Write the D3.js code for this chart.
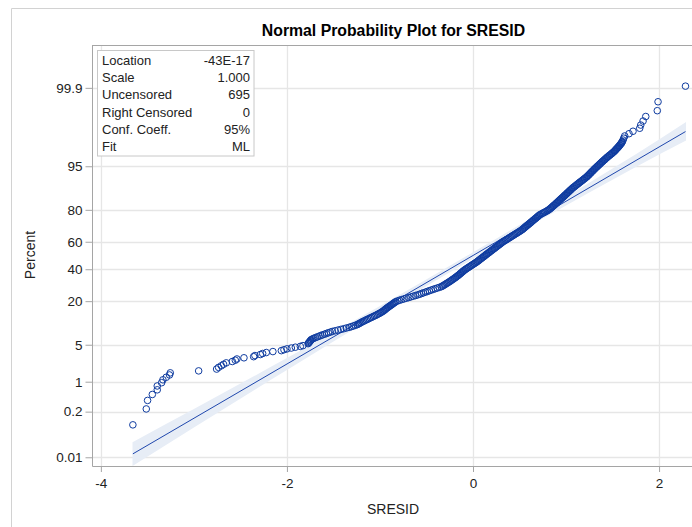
<!DOCTYPE html>
<html><head><meta charset="utf-8">
<script src="https://cdn.jsdelivr.net/npm/d3@7"></script>
<style>
body{margin:0;background:#fff;}
svg{display:block;font-family:"Liberation Sans",Arial,sans-serif;}
</style>
</head><body>
<svg id="chart" width="692" height="527"></svg>
<script>
// ---------------- data ----------------
// lowest observations (ranks 1..34)
const tailLowX = [-3.656,-3.512,-3.498,-3.447,-3.394,-3.394,-3.347,-3.333,-3.297,-3.262,-3.254,-2.949,
  -2.756,-2.735,-2.705,-2.681,-2.652,-2.587,-2.555,-2.538,-2.462,-2.358,-2.344,-2.286,-2.261,-2.222,-2.151,
  -2.060,-2.032,-2.000,-1.953,-1.910,-1.856,-1.828];
const tailLowPct = [0.090,0.234,0.378,0.521,0.665,0.809,0.953,1.097,1.241,1.384,1.528,1.672,
  1.816,1.960,2.104,2.247,2.391,2.535,2.679,2.823,2.967,3.110,3.254,3.398,3.542,3.686,3.830,
  3.973,4.117,4.261,4.405,4.549,4.693,4.836];
// dense body of the sample
const bodyX = [-1.773,-1.761,-1.749,-1.738,-1.709,-1.672,-1.635,-1.596,-1.555,-1.512,-1.451,-1.391,-1.332,
  -1.286,-1.245,-1.219,-1.192,-1.163,-1.133,-1.103,-1.072,-1.042,-1.014,-0.988,-0.965,-0.947,-0.930,
  -0.910,-0.889,-0.869,-0.849,-0.829,-0.790,-0.741,-0.691,-0.642,-0.592,-0.552,-0.511,-0.470,
  -0.428,-0.384,-0.340,-0.315,-0.292,-0.269,-0.246,-0.226,-0.204,-0.184,-0.165,-0.147,-0.130,-0.113,-0.096,
  -0.076,-0.054,-0.031,-0.010,0.013,0.035,0.055,0.073,0.092,0.111,0.130,0.148,0.168,
  0.186,0.205,0.225,0.243,0.262,0.282,0.300,0.319,0.343,0.366,0.389,0.412,0.435,0.459,0.482,0.505,
  0.527,0.544,0.561,0.578,0.597,0.614,0.631,0.648,0.666,0.683,0.700,0.717,0.744,0.771,0.798,
  0.820,0.838,0.854,0.870,0.887,0.903,0.918,0.934,0.949,0.966,0.981,0.997,1.012,1.028,1.043,1.059,
  1.075,1.094,1.112,1.130,1.148,1.168,1.186,1.204,1.223,1.237,1.252,1.266,1.280,1.295,1.309,
  1.325,1.340,1.356,1.371,1.387,1.403,1.419,1.435,1.452,1.470,1.488,1.505,1.522,1.534,1.548,1.561,
  1.573,1.585,1.597,1.604];
const bodyPct = [5.21,5.48,5.77,6.06,6.37,6.68,7.02,7.35,7.71,8.08,8.46,8.85,9.27,9.68,10.12,10.56,11.04,11.51,
  12.01,12.51,13.04,13.57,14.13,14.69,15.28,15.87,16.49,17.11,17.76,18.41,19.09,19.77,20.48,21.19,21.92,22.66,
  23.43,24.20,24.99,25.78,26.61,27.43,28.27,29.12,29.99,30.85,31.75,32.64,33.55,34.46,35.39,36.32,37.26,38.21,
  39.17,40.13,41.10,42.07,43.06,44.04,45.03,46.02,47.01,48.01,49.00,50.00,51.00,51.99,52.99,53.98,54.97,55.96,
  56.94,57.93,58.90,59.87,60.83,61.79,62.74,63.68,64.61,65.54,66.45,67.36,68.25,69.15,70.01,70.88,71.73,72.57,
  73.39,74.22,75.01,75.80,76.57,77.34,78.08,78.81,79.52,80.23,80.91,81.59,82.24,82.89,83.51,84.13,84.72,85.31,
  85.87,86.43,86.96,87.49,87.99,88.49,88.96,89.44,89.88,90.32,90.73,91.15,91.54,91.92,92.29,92.65,92.98,93.32,
  93.63,93.94,94.23,94.52,94.79,95.05,95.30,95.54,95.78,95.99,96.20,96.41,96.60,96.78,96.96,97.13,97.29,97.44,
  97.59,97.72,97.85,97.98,98.10,98.21];
// further observations in the dense body (between the ones above)
const bodyMidX = [-1.767,-1.755,-1.744,-1.724,-1.691,-1.654,-1.616,-1.576,-1.534,-1.482,
  -1.421,-1.362,-1.309,-1.266,-1.232,-1.206,-1.178,-1.148,-1.118,-1.088,
  -1.057,-1.028,-1.001,-0.977,-0.956,-0.939,-0.920,-0.900,-0.879,-0.859,
  -0.839,-0.810,-0.766,-0.716,-0.667,-0.617,-0.572,-0.532,-0.491,-0.449,
  -0.406,-0.362,-0.328,-0.304,-0.281,-0.258,-0.236,-0.215,-0.194,-0.175,
  -0.156,-0.139,-0.122,-0.105,-0.086,-0.065,-0.043,-0.021,0.002,0.024,
  0.045,0.064,0.083,0.102,0.121,0.139,0.158,0.177,0.196,0.215,
  0.234,0.253,0.272,0.291,0.310,0.331,0.355,0.378,0.401,0.424,
  0.447,0.471,0.494,0.516,0.536,0.553,0.570,0.588,0.606,0.623,
  0.640,0.657,0.675,0.692,0.709,0.731,0.758,0.785,0.809,0.829,
  0.846,0.862,0.879,0.895,0.911,0.926,0.942,0.958,0.974,0.989,
  1.005,1.020,1.036,1.051,1.067,1.085,1.103,1.121,1.139,1.158,
  1.177,1.195,1.214,1.230,1.245,1.259,1.273,1.288,1.302,1.317,
  1.333,1.348,1.364,1.379,1.395,1.411,1.427,1.444,1.461,1.479,
  1.497,1.514,1.528,1.541,1.555,1.567,1.579,1.591,1.601];
const bodyMidPct = [5.34,5.62,5.91,6.21,6.52,6.85,7.18,7.53,7.89,8.27,
  8.65,9.06,9.47,9.90,10.34,10.80,11.27,11.76,12.26,12.77,
  13.30,13.85,14.41,14.98,15.57,16.18,16.80,17.43,18.08,18.75,
  19.43,20.12,20.83,21.55,22.29,23.04,23.81,24.59,25.38,26.19,
  27.02,27.85,28.69,29.55,30.42,31.30,32.19,33.09,34.00,34.92,
  35.85,36.79,37.73,38.69,39.65,40.61,41.58,42.56,43.55,44.53,
  45.52,46.51,47.51,48.50,49.50,50.50,51.49,52.49,53.48,54.47,
  55.46,56.45,57.43,58.42,59.38,60.35,61.31,62.26,63.21,64.14,
  65.07,65.99,66.90,67.80,68.70,69.58,70.44,71.30,72.15,72.98,
  73.80,74.61,75.40,76.18,76.95,77.71,78.44,79.16,79.87,80.57,
  81.25,81.91,82.56,83.20,83.82,84.42,85.01,85.59,86.15,86.69,
  87.22,87.74,88.24,88.72,89.20,89.66,90.10,90.52,90.94,91.34,
  91.73,92.10,92.47,92.81,93.15,93.47,93.78,94.08,94.37,94.65,
  94.92,95.17,95.42,95.66,95.88,96.09,96.30,96.50,96.69,96.87,
  97.04,97.21,97.36,97.51,97.65,97.78,97.91,98.04,98.15];
// highest observations (ranks 684..695)
const tailHighX = [1.613,1.620,1.631,1.677,1.720,1.792,1.803,1.828,1.857,1.981,1.989,2.284];
const tailHighPct = [98.33,98.47,98.62,98.76,98.90,99.05,99.19,99.34,99.48,99.62,99.77,99.91];

// fitted normal and its confidence band (half width in normal-quantile units)
const fitLocation = -43e-17;
const fitScale = 1.000;
const bandX = [-3.66,-3.0,-2.0,-1.0,0.0,1.0,2.0,2.29];
const bandHalf = [0.22,0.17,0.11,0.07,0.06,0.08,0.14,0.17];

// axes
const yTickPct = [0.01,0.2,1,5,20,40,60,80,95,99.9];
const yTickLabels = ["0.01","0.2","1","5","20","40","60","80","95","99.9"];
const xTicks = [-4,-2,0,2];

// inset table
const statLabels = ["Location","Scale","Uncensored","Right Censored","Conf. Coeff.","Fit"];
const statValues = ["-43E-17","1.000","695","0","95%","ML"];

// ---------------- helpers ----------------
function probit(p){
  const a=[-3.969683028665376e+01,2.209460984245205e+02,-2.759285104469687e+02,1.383577518672690e+02,-3.066479806614716e+01,2.506628277459239e+00];
  const b=[-5.447609879822406e+01,1.615858368580409e+02,-1.556989798598866e+02,6.680131188771972e+01,-1.328068155288572e+01];
  const c=[-7.784894002430293e-03,-3.223964580411365e-01,-2.400758277161838e+00,-2.549732539343734e+00,4.374664141464968e+00,2.938163982698783e+00];
  const d=[7.784695709041462e-03,3.224671290700398e-01,2.445134137142996e+00,3.754408661907416e+00];
  const plow=0.02425, phigh=1-plow;
  let q,r;
  if(p<plow){ q=Math.sqrt(-2*Math.log(p));
    return (((((c[0]*q+c[1])*q+c[2])*q+c[3])*q+c[4])*q+c[5])/((((d[0]*q+d[1])*q+d[2])*q+d[3])*q+1);}
  if(p<=phigh){ q=p-0.5; r=q*q;
    return (((((a[0]*r+a[1])*r+a[2])*r+a[3])*r+a[4])*r+a[5])*q/(((((b[0]*r+b[1])*r+b[2])*r+b[3])*r+b[4])*r+1);}
  q=Math.sqrt(-2*Math.log(1-p));
  return -(((((c[0]*q+c[1])*q+c[2])*q+c[3])*q+c[4])*q+c[5])/((((d[0]*q+d[1])*q+d[2])*q+d[3])*q+1);
}

// ---------------- layout ----------------
const svg = d3.select("#chart");
const L=92.5, R=700, T=45, B=466;
const x = d3.scaleLinear().domain([-4.09, 2.44]).range([L, R]);
const y = d3.scaleLinear().domain([-3.88, 3.88]).range([B, T]);   // normal quantile scale
const yP = p => y(probit(p/100));

const points = [];
function addSeries(xs, ps){ const n=Math.min(xs.length, ps.length); for(let i=0;i<n;i++) points.push({x:xs[i],p:ps[i]}); }
addSeries(tailLowX, tailLowPct);
addSeries(bodyX, bodyPct);
addSeries(bodyMidX, bodyMidPct);
addSeries(tailHighX, tailHighPct);

// outer frame
svg.append("line").attr("x1",11.5).attr("y1",8.5).attr("x2",692).attr("y2",8.5).attr("stroke","#d2d2d2");
svg.append("line").attr("x1",11.5).attr("y1",8.5).attr("x2",11.5).attr("y2",527).attr("stroke","#d2d2d2");

// title
svg.append("text").attr("x",393.5).attr("y",36).attr("text-anchor","middle")
  .attr("font-size",15.8).attr("font-weight","bold").attr("fill","#000")
  .text("Normal Probability Plot for SRESID");

const defs = svg.append("defs");
defs.append("clipPath").attr("id","plotclip").append("rect")
  .attr("x",L).attr("y",T).attr("width",R-L).attr("height",B-T);

const plot = svg.append("g").attr("clip-path","url(#plotclip)");

// gridlines
const yTickZ = yTickPct.map(p=>probit(p/100));
plot.selectAll("line.gy").data(yTickZ).enter().append("line")
  .attr("x1",L).attr("x2",R).attr("y1",d=>Math.round(y(d))+0.5).attr("y2",d=>Math.round(y(d))+0.5)
  .attr("stroke","#e6e6e6").attr("stroke-width",1.3);
plot.selectAll("line.gx").data(xTicks).enter().append("line")
  .attr("y1",T).attr("y2",B).attr("x1",d=>Math.round(x(d))+0.5).attr("x2",d=>Math.round(x(d))+0.5)
  .attr("stroke","#e6e6e6").attr("stroke-width",1.3);

// confidence band
const bandData = bandX.map((v,i)=>({x:v,z:(v-fitLocation)/fitScale,h:bandHalf[i]}));
plot.append("path").datum(bandData)
  .attr("d", d3.area().curve(d3.curveMonotoneX)
     .x(d=>x(d.x)).y0(d=>y(d.z-d.h)).y1(d=>y(d.z+d.h)))
  .attr("fill","#e7edf6");

// fit line
const xMin = d3.min(points,d=>d.x), xMax = d3.max(points,d=>d.x);
plot.append("line")
  .attr("x1",x(xMin)).attr("y1",y((xMin-fitLocation)/fitScale))
  .attr("x2",x(xMax)).attr("y2",y((xMax-fitLocation)/fitScale))
  .attr("stroke","#1f47ad").attr("stroke-width",1);

// points
plot.selectAll("circle").data(points).enter().append("circle")
  .attr("cx",d=>x(d.x)).attr("cy",d=>yP(d.p)).attr("r",3.3)
  .attr("fill","none").attr("stroke","#0f3ca0").attr("stroke-width",1);

// axes
const axisColor = "#a5a5a5";
const yAxis = d3.axisLeft(y).tickValues(yTickZ).tickFormat((d,i)=>yTickLabels[i]).tickSize(7).tickPadding(3);
const gy = svg.append("g").attr("transform",`translate(${L},0)`).call(yAxis);
const xAxis = d3.axisBottom(x).tickValues(xTicks).tickFormat(d3.format("d")).tickSize(6).tickPadding(6);
const gx = svg.append("g").attr("transform",`translate(0,${B})`).call(xAxis);
[gy,gx].forEach(g=>{
  g.select(".domain").remove();
  g.selectAll(".tick line").attr("stroke",axisColor);
  g.selectAll(".tick text").attr("fill","#222").attr("font-size",13.5)
    .attr("font-family","'Liberation Sans',Arial,sans-serif");
});
gx.selectAll(".tick text").text(d=>d<0 ? "-"+Math.abs(d) : String(d));

// plot frame (left axis, bottom axis, top border)
svg.append("line").attr("x1",L).attr("x2",L).attr("y1",T).attr("y2",B+0.5).attr("stroke",axisColor);
svg.append("line").attr("x1",L).attr("x2",692).attr("y1",B+0.5).attr("y2",B+0.5).attr("stroke",axisColor);
svg.append("line").attr("x1",L).attr("x2",692).attr("y1",T+0.5).attr("y2",T+0.5).attr("stroke",axisColor);

// axis titles
svg.append("text").attr("x",393).attr("y",514).attr("text-anchor","middle")
  .attr("font-size",14).attr("fill","#222").text("SRESID");
svg.append("text").attr("transform","translate(35,255) rotate(-90)").attr("text-anchor","middle")
  .attr("font-size",14).attr("fill","#222").text("Percent");

// inset statistics table
const inset = svg.append("g");
inset.append("rect").attr("x",97.5).attr("y",50.5).attr("width",156.5).attr("height",105.5)
  .attr("fill","#fff").attr("stroke","#c8c8c8");
statLabels.forEach((s,i)=>{
  inset.append("text").attr("x",102).attr("y",64.5+i*17.35).attr("font-size",13)
    .attr("fill","#222").text(s);
  inset.append("text").attr("x",250).attr("y",64.5+i*17.35).attr("font-size",13)
    .attr("text-anchor","end").attr("fill","#222").text(statValues[i]);
});
</script>
</body></html>
